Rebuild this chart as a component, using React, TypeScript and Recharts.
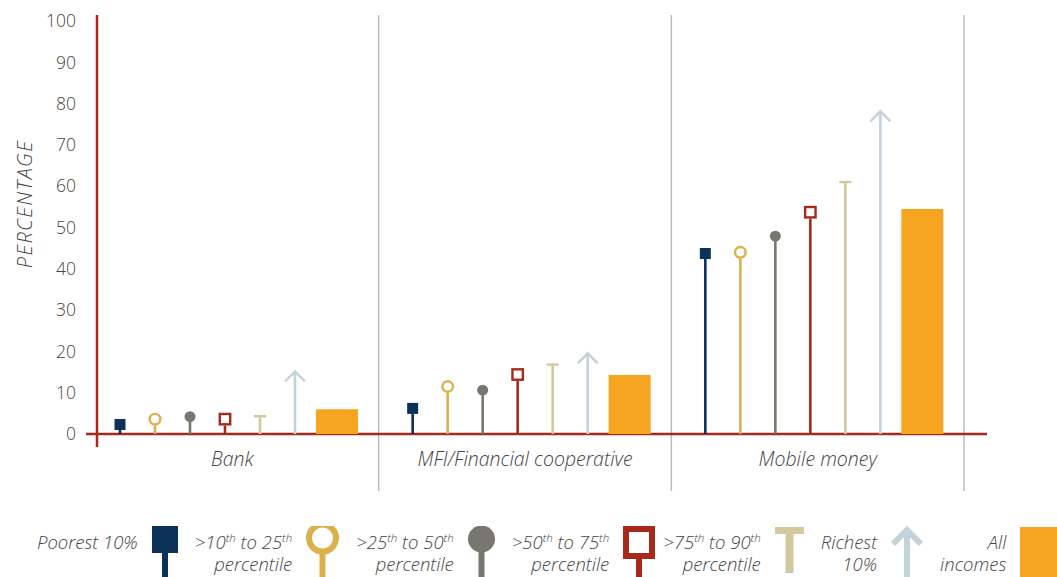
import React from 'react';
import { BarChart, Bar, XAxis, YAxis } from 'recharts';

const categories = ['Bank', 'MFI/Financial cooperative', 'Mobile money'];
const poorest = [2.3, 6.2, 43.7];
const p10to25 = [3.6, 11.5, 44.0];
const p25to50 = [4.2, 10.6, 47.9];
const p50to75 = [3.6, 14.4, 53.7];
const p75to90 = [4.6, 17.1, 61.3];
const richest = [15.5, 19.9, 78.5];
const allIncomes = [6.0, 14.3, 54.5];
const yTicks = [0, 10, 20, 30, 40, 50, 60, 70, 80, 90, 100];

const data = categories.map((name, i) => ({
  name,
  poorest: poorest[i],
  p10to25: p10to25[i],
  p25to50: p25to50[i],
  p50to75: p50to75[i],
  p75to90: p75to90[i],
  richest: richest[i],
  allIncomes: allIncomes[i],
}));

const NAVY = '#0b3158';
const GOLD = '#dcb04b';
const GREY = '#77776f';
const RED = '#a6291c';
const BEIGE = '#d3c89e';
const STEEL = '#c4d2d9';
const ORANGE = '#f5a51f';
const TEXT = '#444444';
const FONT = '"Open Sans", Lato, sans-serif';

// chart frame
const W = 1057;
const H = 500;
const LEFT = 86;
const RIGHT = 964;
const TOP = 21;
const BOTTOM = 434;

type Kind = 'square' | 'circle' | 'dot' | 'box' | 'tee' | 'arrow';

function Lollipop(props: any) {
  const { x, y, width, height, kind, color } = props;
  const cx = x + width / 2;
  const base = y + height;
  let stemTop = y;
  let marker: React.ReactNode = null;
  if (kind === 'square') {
    marker = <rect x={cx - 5.5} y={y - 5.5} width={11} height={11} fill={color} />;
    stemTop = y + 5;
  } else if (kind === 'circle') {
    marker = <circle cx={cx} cy={y} r={5.3} fill="#fff" stroke={color} strokeWidth={2.4} />;
    stemTop = y + 6.4;
  } else if (kind === 'dot') {
    marker = <circle cx={cx} cy={y} r={5.5} fill={color} />;
    stemTop = y + 5;
  } else if (kind === 'box') {
    marker = <rect x={cx - 5.2} y={y - 5.2} width={10.4} height={10.4} fill="#fff" stroke={color} strokeWidth={2.4} />;
    stemTop = y + 6.4;
  } else if (kind === 'tee') {
    marker = <line x1={cx - 6} x2={cx + 6} y1={y + 1.2} y2={y + 1.2} stroke={color} strokeWidth={2.4} />;
  } else if (kind === 'arrow') {
    marker = (
      <polyline
        points={`${cx - 10},${y + 11.5} ${cx},${y + 1.5} ${cx + 10},${y + 11.5}`}
        fill="none"
        stroke={color}
        strokeWidth={2.4}
      />
    );
    stemTop = y + 1.5;
  }
  return (
    <g>
      {base > stemTop && <line x1={cx} x2={cx} y1={stemTop} y2={base} stroke={color} strokeWidth={2.6} />}
      {marker}
    </g>
  );
}

const series: { key: string; kind: Kind; color: string }[] = [
  { key: 'poorest', kind: 'square', color: NAVY },
  { key: 'p10to25', kind: 'circle', color: GOLD },
  { key: 'p25to50', kind: 'dot', color: GREY },
  { key: 'p50to75', kind: 'box', color: RED },
  { key: 'p75to90', kind: 'tee', color: BEIGE },
  { key: 'richest', kind: 'arrow', color: STEEL },
];

function Frame() {
  const band = (RIGHT - LEFT) / categories.length;
  return (
    <g>
      {categories.map((c, i) => (
        <line
          key={c}
          x1={LEFT + band * (i + 1)}
          x2={LEFT + band * (i + 1)}
          y1={15}
          y2={491}
          stroke="#bdbdbd"
          strokeWidth={1.5}
        />
      ))}
      <line x1={97} x2={97} y1={15} y2={447} stroke={RED} strokeWidth={2.5} />
      <line x1={LEFT} x2={987} y1={BOTTOM} y2={BOTTOM} stroke={RED} strokeWidth={2.5} />
    </g>
  );
}

const legendStyle: React.CSSProperties = {
  textAlign: 'right',
  fontStyle: 'italic',
  fontWeight: 300,
  fontSize: 18.5,
  lineHeight: '22px',
  color: TEXT,
  marginRight: 14,
  whiteSpace: 'nowrap',
};

function Sup({ children }: { children: React.ReactNode }) {
  return <sup style={{ fontSize: 11.5, lineHeight: 0 }}>{children}</sup>;
}

const legendItems: { label: React.ReactNode; marker: React.ReactNode; w: number }[] = [
  {
    label: <>Poorest 10%</>,
    w: 26,
    marker: (
      <>
        <rect x={0} y={0} width={26} height={27} fill={NAVY} />
        <rect x={10} y={27} width={6} height={24} fill={NAVY} />
      </>
    ),
  },
  {
    label: (
      <>
        &gt;10<Sup>th</Sup> to 25<Sup>th</Sup>
        <br />
        percentile
      </>
    ),
    w: 33,
    marker: (
      <>
        <circle cx={16.5} cy={12} r={13.5} fill="#fff" stroke={GOLD} strokeWidth={6} />
        <rect x={13.5} y={28} width={6} height={23} fill={GOLD} />
      </>
    ),
  },
  {
    label: (
      <>
        &gt;25<Sup>th</Sup> to 50<Sup>th</Sup>
        <br />
        percentile
      </>
    ),
    w: 27,
    marker: (
      <>
        <circle cx={13.5} cy={13} r={13.5} fill={GREY} />
        <rect x={10.5} y={24} width={6} height={27} fill={GREY} />
      </>
    ),
  },
  {
    label: (
      <>
        &gt;50<Sup>th</Sup> to 75<Sup>th</Sup>
        <br />
        percentile
      </>
    ),
    w: 32,
    marker: (
      <>
        <rect x={3} y={3} width={26} height={27} fill="#fff" stroke={RED} strokeWidth={6} />
        <rect x={13} y={33} width={6} height={18} fill={RED} />
      </>
    ),
  },
  {
    label: (
      <>
        &gt;75<Sup>th</Sup> to 90<Sup>th</Sup>
        <br />
        percentile
      </>
    ),
    w: 29,
    marker: (
      <>
        <rect x={0} y={1} width={29} height={7} fill={BEIGE} />
        <rect x={10.5} y={8} width={8} height={39} fill={BEIGE} />
      </>
    ),
  },
  {
    label: (
      <>
        Richest
        <br />
        10%
      </>
    ),
    w: 32,
    marker: (
      <>
        <polyline points="2,18 16,4 30,18" fill="none" stroke={STEEL} strokeWidth={6} />
        <rect x={13} y={5} width={6} height={46} fill={STEEL} />
      </>
    ),
  },
  {
    label: (
      <>
        All
        <br />
        incomes
      </>
    ),
    w: 40,
    marker: <rect x={0} y={1} width={40} height={50} fill={ORANGE} />,
  },
];

export default function App() {
  return (
    <div style={{ width: W, height: 577, position: 'relative', overflow: 'hidden', fontFamily: FONT }}>
      <style>{'body{margin:0}'}</style>
      <BarChart
        width={W}
        height={H}
        data={data}
        margin={{ top: TOP, right: W - RIGHT, left: 0, bottom: 0 }}
        barGap={7}
      >
        <Frame />
        <XAxis
          dataKey="name"
          height={H - BOTTOM}
          axisLine={false}
          tickLine={false}
          tickMargin={12}
          tick={{ fill: TEXT, fontSize: 19.5, fontStyle: 'italic', fontWeight: 300, fontFamily: FONT }}
        />
        <YAxis
          width={LEFT}
          domain={[0, 100]}
          ticks={yTicks}
          interval={0}
          axisLine={false}
          tickLine={false}
          tickMargin={4}
          tick={{ fill: TEXT, fontSize: 17.5, fontWeight: 300, fontFamily: FONT }}
          label={{
            content: () => (
              <text
                x={24}
                y={204}
                transform="rotate(-90 24 204)"
                textAnchor="middle"
                dominantBaseline="central"
                fill={TEXT}
                fontSize={20}
                fontStyle="italic"
                fontWeight={300}
                fontFamily={FONT}
                letterSpacing={1.4}
              >
                PERCENTAGE
              </text>
            ),
          }}
        />
        {series.map((s) => (
          <Bar
            key={s.key}
            dataKey={s.key}
            barSize={28}
            fill={s.color}
            isAnimationActive={false}
            shape={(p: any) => <Lollipop {...p} kind={s.kind} color={s.color} />}
          />
        ))}
        <Bar dataKey="allIncomes" barSize={42} fill={ORANGE} isAnimationActive={false} />
      </BarChart>
      <div style={{ position: 'absolute', left: 37, top: H, height: 77, display: 'flex', alignItems: 'flex-start' }}>
        {legendItems.map((it, i) => (
          <div key={i} style={{ display: 'flex', alignItems: 'flex-start', marginRight: i === 3 ? 8 : 17 }}>
            <div style={{ ...legendStyle, marginTop: 31 }}>{it.label}</div>
            <svg width={it.w} height={51} style={{ marginTop: 26, display: 'block' }}>
              {it.marker}
            </svg>
          </div>
        ))}
      </div>
    </div>
  );
}
